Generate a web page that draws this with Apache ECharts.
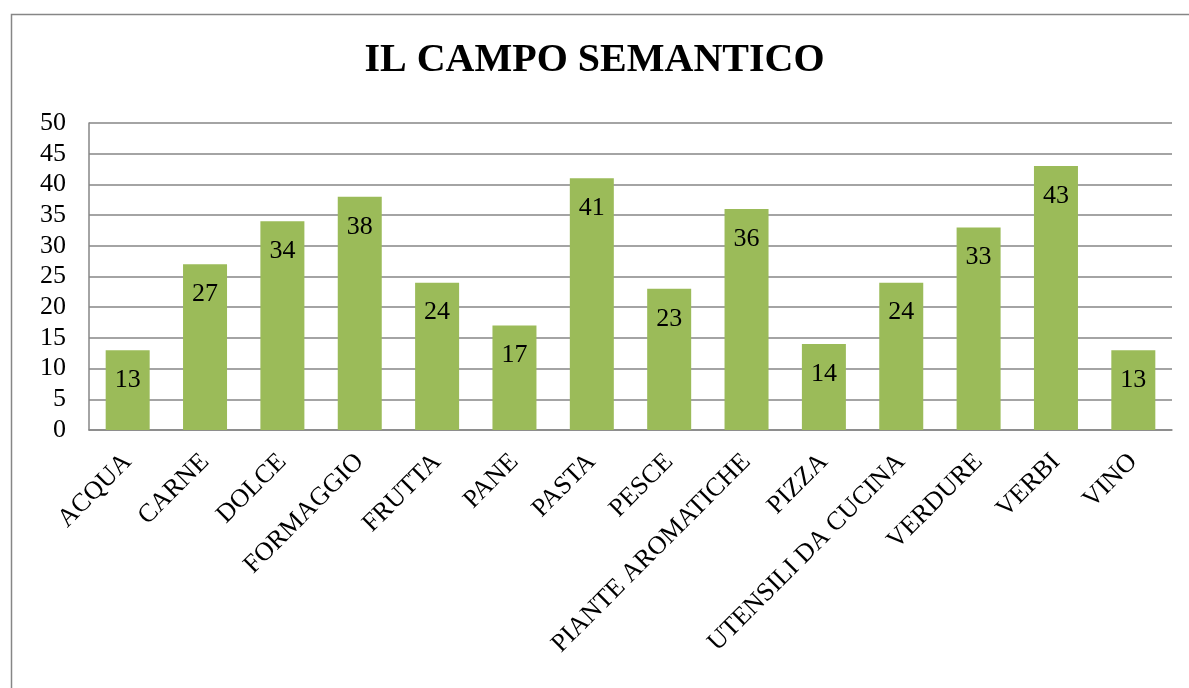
<!DOCTYPE html>
<html><head><meta charset="utf-8">
<script src="https://cdn.jsdelivr.net/npm/echarts@6/dist/echarts.min.js"></script>
<style>html,body{margin:0;padding:0;background:#fff}#c{width:1189px;height:688px}</style>
</head><body><div id="c"></div>
<script>
const categories = ["ACQUA","CARNE","DOLCE","FORMAGGIO","FRUTTA","PANE","PASTA","PESCE","PIANTE AROMATICHE","PIZZA","UTENSILI DA CUCINA","VERDURE","VERBI","VINO"];
const values = [13,27,34,38,24,17,41,23,36,14,24,33,43,13];
const titleText = "IL CAMPO SEMANTICO";
const FONT = '"Liberation Serif","Times New Roman",serif';
const chart = echarts.init(document.getElementById('c'));
chart.setOption({
  animation:false,
  backgroundColor:'#fff',
  graphic:[{type:'rect',shape:{x:11.5,y:14.5,width:1200,height:700},style:{fill:'none',stroke:'#868686',lineWidth:1.5},silent:true}],
  title:{text:titleText,left:'center',top:36,textStyle:{fontFamily:FONT,fontWeight:'bold',fontSize:40,color:'#000'}},
  grid:{left:89,right:17,top:123,bottom:258},
  xAxis:{type:'category',data:categories,
    axisLine:{lineStyle:{color:'#868686',width:1.5}},axisTick:{show:false},
    axisLabel:{rotate:45,interval:0,margin:28,fontFamily:FONT,fontSize:26,color:'#000'}},
  yAxis:{type:'value',min:0,max:50,interval:5,
    axisLine:{show:true,lineStyle:{color:'#868686',width:1.5}},axisTick:{show:false},
    splitLine:{lineStyle:{color:'#868686',width:1.5}},
    axisLabel:{margin:23,fontFamily:FONT,fontSize:26,color:'#000'}},
  series:[{type:'bar',data:values,barWidth:44,itemStyle:{color:'#9BBB59'},
    label:{show:true,position:'insideTop',distance:17,fontFamily:FONT,fontSize:26,color:'#000'}}]
});
</script></body></html>
